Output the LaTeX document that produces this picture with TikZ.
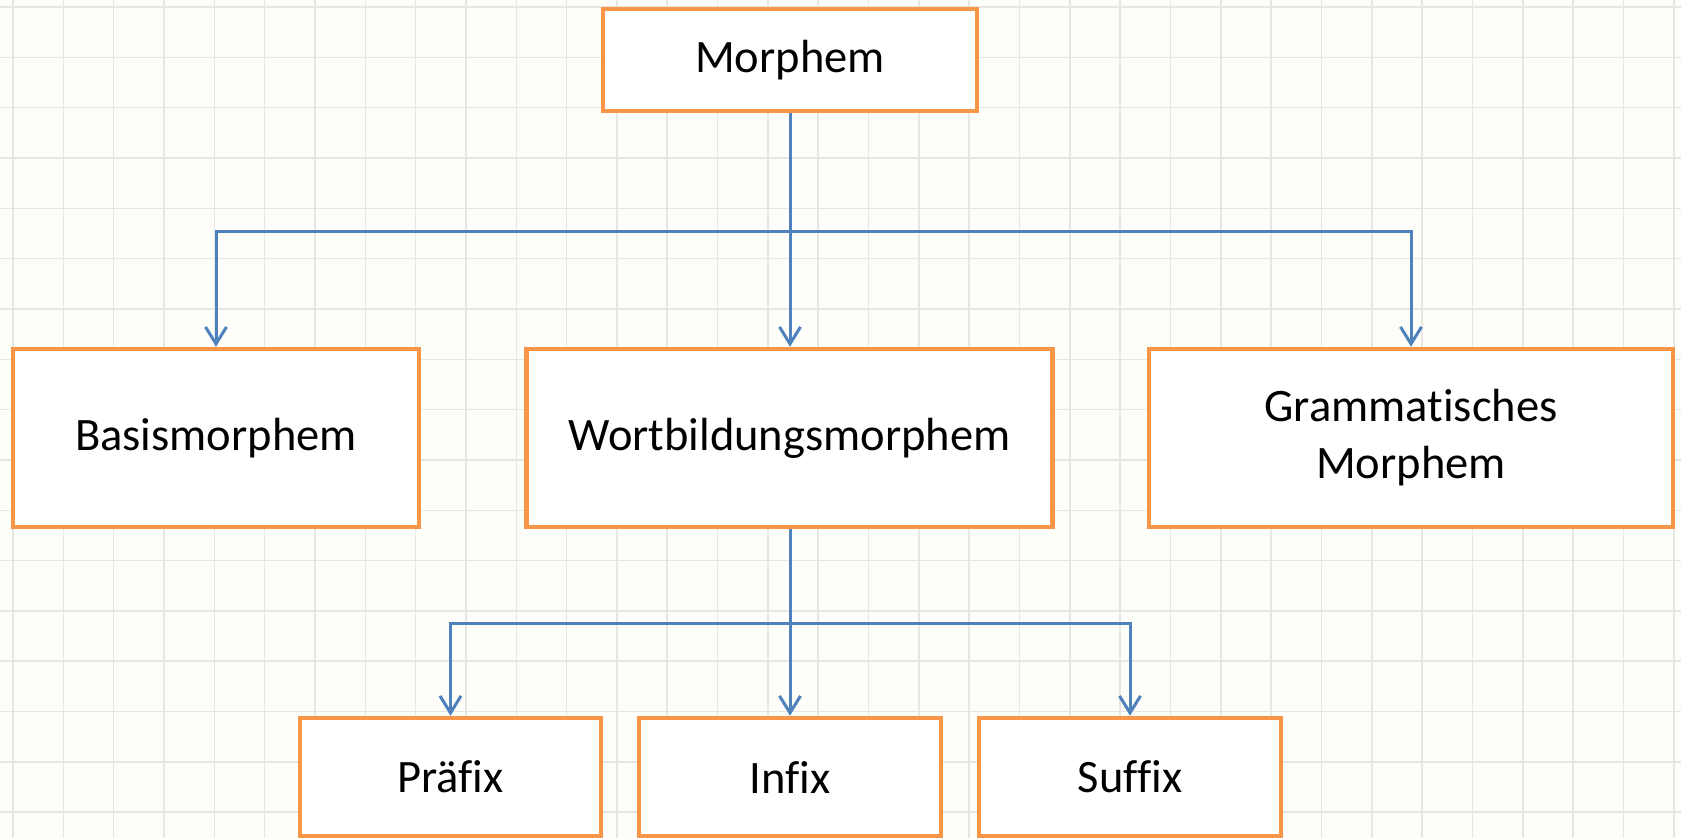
\documentclass[tikz,border=0pt]{standalone}
\usepackage{fontspec}
\setmainfont{Carlito}[RawFeature={-liga;-clig;-calt;-dlig}]
\usetikzlibrary{arrows.meta}
\definecolor{bgcol}{HTML}{FDFDF9}
\definecolor{gridcol}{HTML}{E6E6E2}
\definecolor{boxorange}{HTML}{F79646}
\definecolor{linkblue}{HTML}{4F81BD}
\tikzset{
  termbox/.style={draw=boxorange, line width=4.5pt, fill=white, inner sep=0pt,
    align=center, font=\fontsize{46.5}{57}\selectfont},
  link/.style={draw=linkblue, line width=3pt},
  linkarrow/.style={link, -{Straight Barb[length=17pt,width=21pt]}}
}
\begin{document}
\begin{tikzpicture}[x=1pt,y=-1pt]
\useasboundingbox (0,0) rectangle (1681,838);
\clip (0,0) rectangle (1681,838);
\fill[bgcol] (0,0) rectangle (1681,838);
\foreach \i in {0,...,33} {
  \draw[gridcol, line width=1.6pt] ({13+50.33*\i},0) -- ({13+50.33*\i},838);
}
\foreach \j in {0,...,16} {
  \draw[gridcol, line width=1.6pt] (0,{7+50.33*\j}) -- (1681,{7+50.33*\j});
}
% nodes
\node[termbox, minimum width=374pt, minimum height=102pt] (morph) at (790,60) {Morphem};
\node[termbox, minimum width=406pt, minimum height=178pt] (basis) at (216,438) {Basismorphem};
\node[termbox, minimum width=526pt, minimum height=178pt] (wort) at (789.5,438) {Wortbildungsmorphem};
\node[termbox, minimum width=524pt, minimum height=178pt] (gramm) at (1411,438) {Grammatisches\\Morphem};
\node[termbox, minimum width=301pt, minimum height=118pt] (praef) at (450.5,777) {Präfix};
\node[termbox, minimum width=302pt, minimum height=118pt] (infix) at (790,777) {Infix};
\node[termbox, minimum width=302pt, minimum height=118pt] (suffix) at (1130,777) {Suffix};
% buses
\coordinate (bus1) at (790,231);
\coordinate (bus2) at (790,623);
\draw[link] (morph.south) -- (bus1);
\draw[linkarrow] (bus1) -| (basis.north);
\draw[linkarrow] (bus1) -| (gramm.north);
\draw[linkarrow] (bus1) -- (bus1 |- wort.north);
\draw[link] (wort.south -| bus2) -- (bus2);
\draw[linkarrow] (bus2) -| (praef.north);
\draw[linkarrow] (bus2) -| (suffix.north);
\draw[linkarrow] (bus2) -- (infix.north);
\end{tikzpicture}
\end{document}
